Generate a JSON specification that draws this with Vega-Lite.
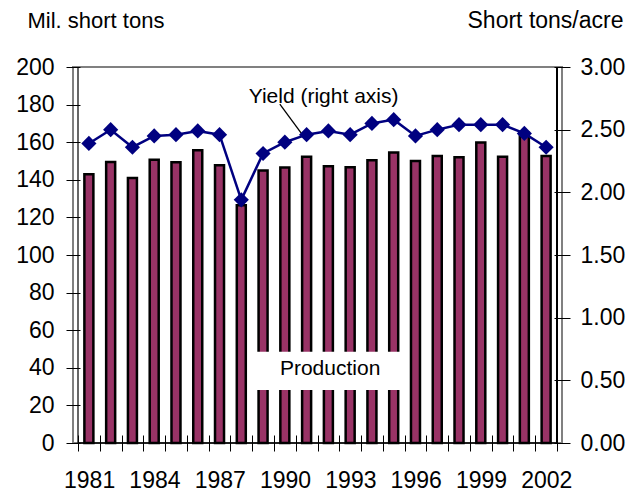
{
  "$schema": "https://vega.github.io/schema/vega-lite/v6.json",
  "width": 489,
  "height": 376,
  "autosize": {"type": "none"},
  "padding": {"left": 73, "top": 67, "right": 77, "bottom": 48},
  "background": "white",
  "config": {
    "font": "Liberation Sans",
    "view": {"stroke": "#808080", "strokeWidth": 2},
    "axis": {"labelFont": "Liberation Sans", "titleFont": "Liberation Sans", "labelColor": "black", "titleColor": "black", "tickColor": "black", "grid": false, "labelOverlap": false, "domain": false, "tickCount": 100}
  },
  "datasets": {
    "hay": [
      {"year": 1981, "production": 143.0, "yield": 2.39},
      {"year": 1982, "production": 149.5, "yield": 2.50},
      {"year": 1983, "production": 141.0, "yield": 2.36},
      {"year": 1984, "production": 150.7, "yield": 2.45},
      {"year": 1985, "production": 149.3, "yield": 2.46},
      {"year": 1986, "production": 155.7, "yield": 2.49},
      {"year": 1987, "production": 147.7, "yield": 2.46},
      {"year": 1988, "production": 126.4, "yield": 1.94},
      {"year": 1989, "production": 145.0, "yield": 2.31},
      {"year": 1990, "production": 146.5, "yield": 2.40},
      {"year": 1991, "production": 152.2, "yield": 2.46},
      {"year": 1992, "production": 147.2, "yield": 2.49},
      {"year": 1993, "production": 146.7, "yield": 2.46},
      {"year": 1994, "production": 150.4, "yield": 2.55},
      {"year": 1995, "production": 154.5, "yield": 2.58},
      {"year": 1996, "production": 150.0, "yield": 2.45},
      {"year": 1997, "production": 152.7, "yield": 2.50},
      {"year": 1998, "production": 152.0, "yield": 2.54},
      {"year": 1999, "production": 159.8, "yield": 2.54},
      {"year": 2000, "production": 152.2, "yield": 2.54},
      {"year": 2001, "production": 165.0, "yield": 2.47},
      {"year": 2002, "production": 152.7, "yield": 2.36}
    ]
  },
  "layer": [
    {
      "layer": [
        {
          "data": {"name": "hay"},
          "mark": {"type": "bar", "size": 9, "fill": "#993366", "stroke": "black", "strokeWidth": 2.5},
          "encoding": {
            "x": {
              "field": "year", "type": "quantitative",
              "scale": {"domain": [1980.5, 2002.5], "nice": false, "zero": false},
              "axis": {
                "title": null, "orient": "bottom", "domain": false, "offset": -8, "tickSize": 16, "tickWidth": 1, "tickCount": 100,
                "values": [1980.5, 1981.5, 1982.5, 1983.5, 1984.5, 1985.5, 1986.5, 1987.5, 1988.5, 1989.5, 1990.5, 1991.5, 1992.5, 1993.5, 1994.5, 1995.5, 1996.5, 1997.5, 1998.5, 1999.5, 2000.5, 2001.5, 2002.5],
                "labelExpr": "(datum.value < 2002 && (datum.value + 0.5 - 1981) % 3 == 0) ? format(datum.value + 0.5, 'd') : ''",
                "labelOffset": 11.1, "labelFlush": false, "labelOverlap": false, "labelPadding": 18, "labelFontSize": 23
              }
            },
            "y": {
              "field": "production", "type": "quantitative",
              "scale": {"domain": [0, 200], "nice": false},
              "axis": {
                "orient": "left", "title": "Mil. short tons", "domain": false, "offset": -7, "tickSize": 14, "tickWidth": 1, "tickCount": 100,
                "values": [0, 20, 40, 60, 80, 100, 120, 140, 160, 180, 200],
                "labelPadding": 12, "labelFontSize": 23, "labelOverlap": false,
                "titleAngle": 0, "titleAlign": "left", "titleBaseline": "alphabetic", "titleFontSize": 22, "titleFontWeight": "normal",
                "titleX": -53, "titleY": -40
              }
            }
          }
        },
        {
          "data": {"values": [{"x": 1988.69, "x2": 1995.3, "y": 28.2, "y2": 48.6}]},
          "mark": {"type": "rect", "fill": "white", "stroke": null},
          "encoding": {
            "x": {"field": "x", "type": "quantitative"},
            "x2": {"field": "x2"},
            "y": {"field": "y", "type": "quantitative"},
            "y2": {"field": "y2"}
          }
        },
        {
          "data": {"values": [{"x": 1992.08, "y": 36.2, "label": "Production"}, {"x": 1991.78, "y": 180.7, "label": "Yield (right axis)"}]},
          "mark": {"type": "text", "fontSize": 21, "align": "center", "baseline": "alphabetic", "color": "black", "font": "Liberation Sans"},
          "encoding": {
            "x": {"field": "x", "type": "quantitative"},
            "y": {"field": "y", "type": "quantitative"},
            "text": {"field": "label"}
          }
        },
        {
          "data": {"values": [
            {"x": 1989.77, "x2": 1990.76, "y": 180.3, "y2": 164.7, "w": 1.3},
            {"x": 1980.5, "x2": 1980.5, "y": 0, "y2": 200, "w": 1.2},
            {"x": 2002.5, "x2": 2002.5, "y": 0, "y2": 200, "w": 2},
            {"x": 1980.5, "x2": 2002.5, "y": 0, "y2": 0, "w": 1.5}
          ]},
          "mark": {"type": "rule", "color": "black"},
          "encoding": {
            "x": {"field": "x", "type": "quantitative"},
            "x2": {"field": "x2"},
            "y": {"field": "y", "type": "quantitative"},
            "y2": {"field": "y2"},
            "strokeWidth": {"field": "w", "type": "quantitative", "scale": null}
          }
        }
      ]
    },
    {
      "data": {"name": "hay"},
      "mark": {"type": "line", "color": "#000080", "strokeWidth": 2.5, "point": {"shape": "diamond", "filled": true, "size": 230, "color": "#000080", "opacity": 1}},
      "encoding": {
        "x": {"field": "year", "type": "quantitative"},
        "y": {
          "field": "yield", "type": "quantitative",
          "scale": {"domain": [0, 3], "nice": false},
          "axis": {
            "orient": "right", "title": "Short tons/acre", "domain": false, "offset": -8, "tickSize": 16, "tickWidth": 1, "tickCount": 100,
            "values": [0, 0.5, 1, 1.5, 2, 2.5, 3], "format": ".2f",
            "labelPadding": 10, "labelFontSize": 23, "labelOverlap": false,
            "titleAngle": 0, "titleAlign": "right", "titleBaseline": "alphabetic", "titleFontSize": 23, "titleFontWeight": "normal",
            "titleX": 69, "titleY": -40
          }
        }
      }
    }
  ],
  "resolve": {"scale": {"y": "independent"}}
}
